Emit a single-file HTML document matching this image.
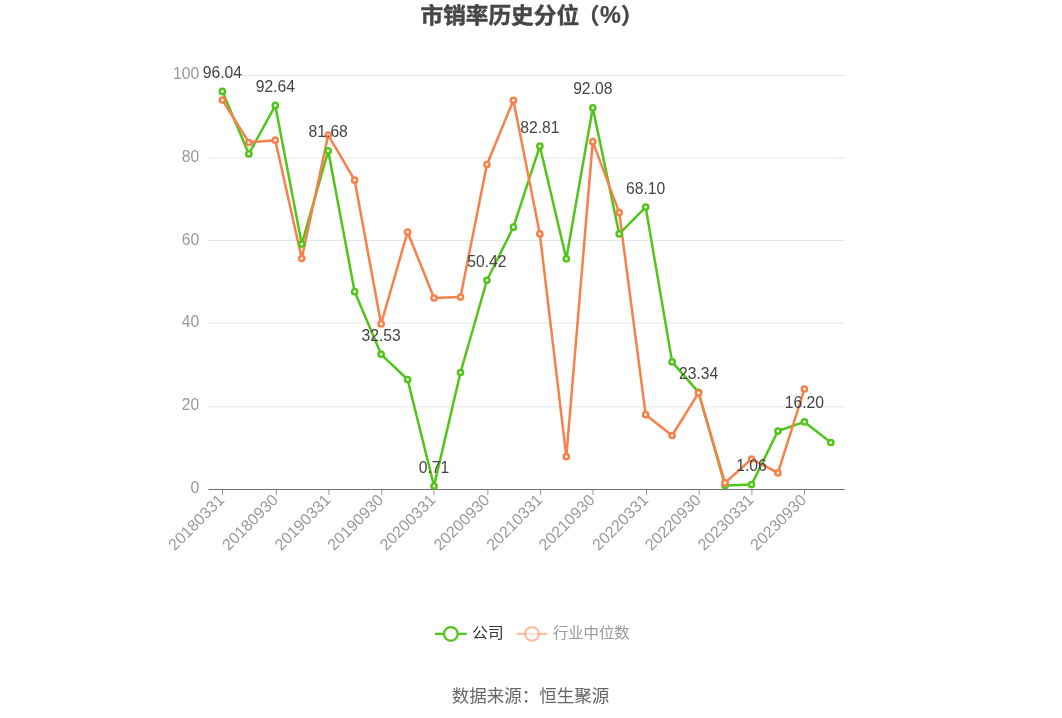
<!DOCTYPE html><html><head><meta charset="utf-8"><style>
html,body{margin:0;padding:0;background:#fff;width:1062px;height:718px;overflow:hidden}
svg{display:block;will-change:transform}
.t{font-family:"Liberation Sans", "Noto Sans CJK SC", sans-serif}
</style></head><body>
<svg width="1062" height="718" viewBox="0 0 1062 718">
<rect width="1062" height="718" fill="#fff"/>
<text class="t" x="420.5" y="23.2" font-size="22" font-weight="bold" stroke="#464646" stroke-width="0.45" textLength="158.6" lengthAdjust="spacingAndGlyphs" fill="#464646">市销率历史分位</text>
<text class="t" x="577.4" y="23.2" font-size="22" font-weight="bold" stroke="#464646" stroke-width="0.45" fill="#464646">（</text>
<text class="t" x="600" y="23.3" font-size="23.5" font-weight="bold" stroke="#464646" stroke-width="0.2" fill="#464646">%</text>
<text class="t" x="621.1" y="23.2" font-size="22" font-weight="bold" stroke="#464646" stroke-width="0.45" fill="#464646">）</text>
<line x1="208.6" y1="406.8" x2="844.6" y2="406.8" stroke="#e0e6f1" stroke-width="1"/>
<line x1="208.6" y1="323.0" x2="844.6" y2="323.0" stroke="#e0e6f1" stroke-width="1"/>
<line x1="208.6" y1="240.5" x2="844.6" y2="240.5" stroke="#e0e6f1" stroke-width="1"/>
<line x1="208.6" y1="158.0" x2="844.6" y2="158.0" stroke="#e0e6f1" stroke-width="1"/>
<line x1="208.6" y1="75.5" x2="844.6" y2="75.5" stroke="#e0e6f1" stroke-width="1"/>
<text class="t" x="199.3" y="493.0" text-anchor="end" font-size="15.7" fill="#999">0</text>
<text class="t" x="199.3" y="410.2" text-anchor="end" font-size="15.7" fill="#999">20</text>
<text class="t" x="199.3" y="327.4" text-anchor="end" font-size="15.7" fill="#999">40</text>
<text class="t" x="199.3" y="244.6" text-anchor="end" font-size="15.7" fill="#999">60</text>
<text class="t" x="199.3" y="161.8" text-anchor="end" font-size="15.7" fill="#999">80</text>
<text class="t" x="199.3" y="79.0" text-anchor="end" font-size="15.7" fill="#999">100</text>
<line x1="208.6" y1="489.5" x2="844.6" y2="489.5" stroke="#6e7079" stroke-width="1"/>
<line x1="222.50" y1="490" x2="222.50" y2="495" stroke="#969696" stroke-width="1"/>
<line x1="276.30" y1="490" x2="276.30" y2="495" stroke="#969696" stroke-width="1"/>
<line x1="328.90" y1="490" x2="328.90" y2="495" stroke="#969696" stroke-width="1"/>
<line x1="381.70" y1="490" x2="381.70" y2="495" stroke="#969696" stroke-width="1"/>
<line x1="433.90" y1="490" x2="433.90" y2="495" stroke="#969696" stroke-width="1"/>
<line x1="487.90" y1="490" x2="487.90" y2="495" stroke="#969696" stroke-width="1"/>
<line x1="540.70" y1="490" x2="540.70" y2="495" stroke="#969696" stroke-width="1"/>
<line x1="593.00" y1="490" x2="593.00" y2="495" stroke="#969696" stroke-width="1"/>
<line x1="646.50" y1="490" x2="646.50" y2="495" stroke="#969696" stroke-width="1"/>
<line x1="699.20" y1="490" x2="699.20" y2="495" stroke="#969696" stroke-width="1"/>
<line x1="751.90" y1="490" x2="751.90" y2="495" stroke="#969696" stroke-width="1"/>
<line x1="804.50" y1="490" x2="804.50" y2="495" stroke="#969696" stroke-width="1"/>
<text class="t" transform="translate(222.20,498) rotate(-45)" text-anchor="end" dominant-baseline="middle" font-size="16" fill="#999">20180331</text>
<text class="t" transform="translate(276.00,498) rotate(-45)" text-anchor="end" dominant-baseline="middle" font-size="16" fill="#999">20180930</text>
<text class="t" transform="translate(328.60,498) rotate(-45)" text-anchor="end" dominant-baseline="middle" font-size="16" fill="#999">20190331</text>
<text class="t" transform="translate(381.40,498) rotate(-45)" text-anchor="end" dominant-baseline="middle" font-size="16" fill="#999">20190930</text>
<text class="t" transform="translate(433.60,498) rotate(-45)" text-anchor="end" dominant-baseline="middle" font-size="16" fill="#999">20200331</text>
<text class="t" transform="translate(487.60,498) rotate(-45)" text-anchor="end" dominant-baseline="middle" font-size="16" fill="#999">20200930</text>
<text class="t" transform="translate(540.40,498) rotate(-45)" text-anchor="end" dominant-baseline="middle" font-size="16" fill="#999">20210331</text>
<text class="t" transform="translate(592.70,498) rotate(-45)" text-anchor="end" dominant-baseline="middle" font-size="16" fill="#999">20210930</text>
<text class="t" transform="translate(646.20,498) rotate(-45)" text-anchor="end" dominant-baseline="middle" font-size="16" fill="#999">20220331</text>
<text class="t" transform="translate(698.90,498) rotate(-45)" text-anchor="end" dominant-baseline="middle" font-size="16" fill="#999">20220930</text>
<text class="t" transform="translate(751.60,498) rotate(-45)" text-anchor="end" dominant-baseline="middle" font-size="16" fill="#999">20230331</text>
<text class="t" transform="translate(804.20,498) rotate(-45)" text-anchor="end" dominant-baseline="middle" font-size="16" fill="#999">20230930</text>
<polyline points="222.40,91.39 248.86,153.91 275.31,105.47 301.76,244.12 328.22,150.84 354.67,291.69 381.13,354.33 407.59,379.50 434.04,486.06 460.50,372.50 486.95,280.26 513.40,227.19 539.86,146.17 566.31,258.82 592.77,107.79 619.23,233.89 645.68,207.07 672.13,361.90 698.59,392.37 725.04,485.48 751.50,484.61 777.95,431.04 804.41,421.93 830.86,442.51" fill="none" stroke="#52c41a" stroke-width="2.5" stroke-linejoin="bevel"/>
<polyline points="222.40,100.09 248.86,142.48 275.31,140.21 301.76,258.48 328.22,135.03 354.67,180.16 381.13,323.90 407.59,231.99 434.04,297.98 460.50,297.11 486.95,164.51 513.40,100.30 539.86,233.89 566.31,456.67 592.77,141.65 619.23,212.61 645.68,414.69 672.13,435.51 698.59,392.91 725.04,482.91 751.50,458.99 777.95,472.90 804.41,389.02" fill="none" stroke="#f7804b" stroke-width="2.5" stroke-linejoin="bevel"/>
<circle cx="222.40" cy="91.39" r="2.6" fill="#fff" stroke="#52c41a" stroke-width="2.5"/>
<circle cx="248.86" cy="153.91" r="2.6" fill="#fff" stroke="#52c41a" stroke-width="2.5"/>
<circle cx="275.31" cy="105.47" r="2.6" fill="#fff" stroke="#52c41a" stroke-width="2.5"/>
<circle cx="301.76" cy="244.12" r="2.6" fill="#fff" stroke="#52c41a" stroke-width="2.5"/>
<circle cx="328.22" cy="150.84" r="2.6" fill="#fff" stroke="#52c41a" stroke-width="2.5"/>
<circle cx="354.67" cy="291.69" r="2.6" fill="#fff" stroke="#52c41a" stroke-width="2.5"/>
<circle cx="381.13" cy="354.33" r="2.6" fill="#fff" stroke="#52c41a" stroke-width="2.5"/>
<circle cx="407.59" cy="379.50" r="2.6" fill="#fff" stroke="#52c41a" stroke-width="2.5"/>
<circle cx="434.04" cy="486.06" r="2.6" fill="#fff" stroke="#52c41a" stroke-width="2.5"/>
<circle cx="460.50" cy="372.50" r="2.6" fill="#fff" stroke="#52c41a" stroke-width="2.5"/>
<circle cx="486.95" cy="280.26" r="2.6" fill="#fff" stroke="#52c41a" stroke-width="2.5"/>
<circle cx="513.40" cy="227.19" r="2.6" fill="#fff" stroke="#52c41a" stroke-width="2.5"/>
<circle cx="539.86" cy="146.17" r="2.6" fill="#fff" stroke="#52c41a" stroke-width="2.5"/>
<circle cx="566.31" cy="258.82" r="2.6" fill="#fff" stroke="#52c41a" stroke-width="2.5"/>
<circle cx="592.77" cy="107.79" r="2.6" fill="#fff" stroke="#52c41a" stroke-width="2.5"/>
<circle cx="619.23" cy="233.89" r="2.6" fill="#fff" stroke="#52c41a" stroke-width="2.5"/>
<circle cx="645.68" cy="207.07" r="2.6" fill="#fff" stroke="#52c41a" stroke-width="2.5"/>
<circle cx="672.13" cy="361.90" r="2.6" fill="#fff" stroke="#52c41a" stroke-width="2.5"/>
<circle cx="698.59" cy="392.37" r="2.6" fill="#fff" stroke="#52c41a" stroke-width="2.5"/>
<circle cx="725.04" cy="485.48" r="2.6" fill="#fff" stroke="#52c41a" stroke-width="2.5"/>
<circle cx="751.50" cy="484.61" r="2.6" fill="#fff" stroke="#52c41a" stroke-width="2.5"/>
<circle cx="777.95" cy="431.04" r="2.6" fill="#fff" stroke="#52c41a" stroke-width="2.5"/>
<circle cx="804.41" cy="421.93" r="2.6" fill="#fff" stroke="#52c41a" stroke-width="2.5"/>
<circle cx="830.86" cy="442.51" r="2.6" fill="#fff" stroke="#52c41a" stroke-width="2.5"/>
<circle cx="222.40" cy="100.09" r="2.6" fill="#fff" stroke="#f7804b" stroke-width="2.5"/>
<circle cx="248.86" cy="142.48" r="2.6" fill="#fff" stroke="#f7804b" stroke-width="2.5"/>
<circle cx="275.31" cy="140.21" r="2.6" fill="#fff" stroke="#f7804b" stroke-width="2.5"/>
<circle cx="301.76" cy="258.48" r="2.6" fill="#fff" stroke="#f7804b" stroke-width="2.5"/>
<circle cx="328.22" cy="135.03" r="2.6" fill="#fff" stroke="#f7804b" stroke-width="2.5"/>
<circle cx="354.67" cy="180.16" r="2.6" fill="#fff" stroke="#f7804b" stroke-width="2.5"/>
<circle cx="381.13" cy="323.90" r="2.6" fill="#fff" stroke="#f7804b" stroke-width="2.5"/>
<circle cx="407.59" cy="231.99" r="2.6" fill="#fff" stroke="#f7804b" stroke-width="2.5"/>
<circle cx="434.04" cy="297.98" r="2.6" fill="#fff" stroke="#f7804b" stroke-width="2.5"/>
<circle cx="460.50" cy="297.11" r="2.6" fill="#fff" stroke="#f7804b" stroke-width="2.5"/>
<circle cx="486.95" cy="164.51" r="2.6" fill="#fff" stroke="#f7804b" stroke-width="2.5"/>
<circle cx="513.40" cy="100.30" r="2.6" fill="#fff" stroke="#f7804b" stroke-width="2.5"/>
<circle cx="539.86" cy="233.89" r="2.6" fill="#fff" stroke="#f7804b" stroke-width="2.5"/>
<circle cx="566.31" cy="456.67" r="2.6" fill="#fff" stroke="#f7804b" stroke-width="2.5"/>
<circle cx="592.77" cy="141.65" r="2.6" fill="#fff" stroke="#f7804b" stroke-width="2.5"/>
<circle cx="619.23" cy="212.61" r="2.6" fill="#fff" stroke="#f7804b" stroke-width="2.5"/>
<circle cx="645.68" cy="414.69" r="2.6" fill="#fff" stroke="#f7804b" stroke-width="2.5"/>
<circle cx="672.13" cy="435.51" r="2.6" fill="#fff" stroke="#f7804b" stroke-width="2.5"/>
<circle cx="698.59" cy="392.91" r="2.6" fill="#fff" stroke="#f7804b" stroke-width="2.5"/>
<circle cx="725.04" cy="482.91" r="2.6" fill="#fff" stroke="#f7804b" stroke-width="2.5"/>
<circle cx="751.50" cy="458.99" r="2.6" fill="#fff" stroke="#f7804b" stroke-width="2.5"/>
<circle cx="777.95" cy="472.90" r="2.6" fill="#fff" stroke="#f7804b" stroke-width="2.5"/>
<circle cx="804.41" cy="389.02" r="2.6" fill="#fff" stroke="#f7804b" stroke-width="2.5"/>
<text class="t" x="222.40" y="77.89" text-anchor="middle" font-size="15.7" fill="#444">96.04</text>
<text class="t" x="275.31" y="91.97" text-anchor="middle" font-size="15.7" fill="#444">92.64</text>
<text class="t" x="328.22" y="137.34" text-anchor="middle" font-size="15.7" fill="#444">81.68</text>
<text class="t" x="381.13" y="340.83" text-anchor="middle" font-size="15.7" fill="#444">32.53</text>
<text class="t" x="434.04" y="472.56" text-anchor="middle" font-size="15.7" fill="#444">0.71</text>
<text class="t" x="486.95" y="266.76" text-anchor="middle" font-size="15.7" fill="#444">50.42</text>
<text class="t" x="539.86" y="132.67" text-anchor="middle" font-size="15.7" fill="#444">82.81</text>
<text class="t" x="592.77" y="94.29" text-anchor="middle" font-size="15.7" fill="#444">92.08</text>
<text class="t" x="645.68" y="193.57" text-anchor="middle" font-size="15.7" fill="#444">68.10</text>
<text class="t" x="698.59" y="378.87" text-anchor="middle" font-size="15.7" fill="#444">23.34</text>
<text class="t" x="751.50" y="471.11" text-anchor="middle" font-size="15.7" fill="#444">1.06</text>
<text class="t" x="804.41" y="408.43" text-anchor="middle" font-size="15.7" fill="#444">16.20</text>
<line x1="435" y1="633.9" x2="466.7" y2="633.9" stroke="#52c41a" stroke-width="2.3"/>
<circle cx="450.85" cy="633.9" r="6.85" fill="#fff" stroke="#52c41a" stroke-width="2.3"/>
<text class="t" x="471.9" y="637.5" font-size="15" textLength="31.8" lengthAdjust="spacingAndGlyphs" fill="#333">公司</text>
<line x1="516.7" y1="633.9" x2="547.3" y2="633.9" stroke="#f7804b" stroke-width="2.3" opacity="0.5"/>
<circle cx="532" cy="633.9" r="6.85" fill="#fff" fill-opacity="0.6" stroke="#f7804b" stroke-opacity="0.5" stroke-width="2.3"/>
<text class="t" x="553" y="637.8" font-size="15.3" fill="#999">行业中位数</text>
<text class="t" x="451.7" y="702" font-size="17.5" fill="#666">数据来源：恒生聚源</text>
</svg></body></html>
